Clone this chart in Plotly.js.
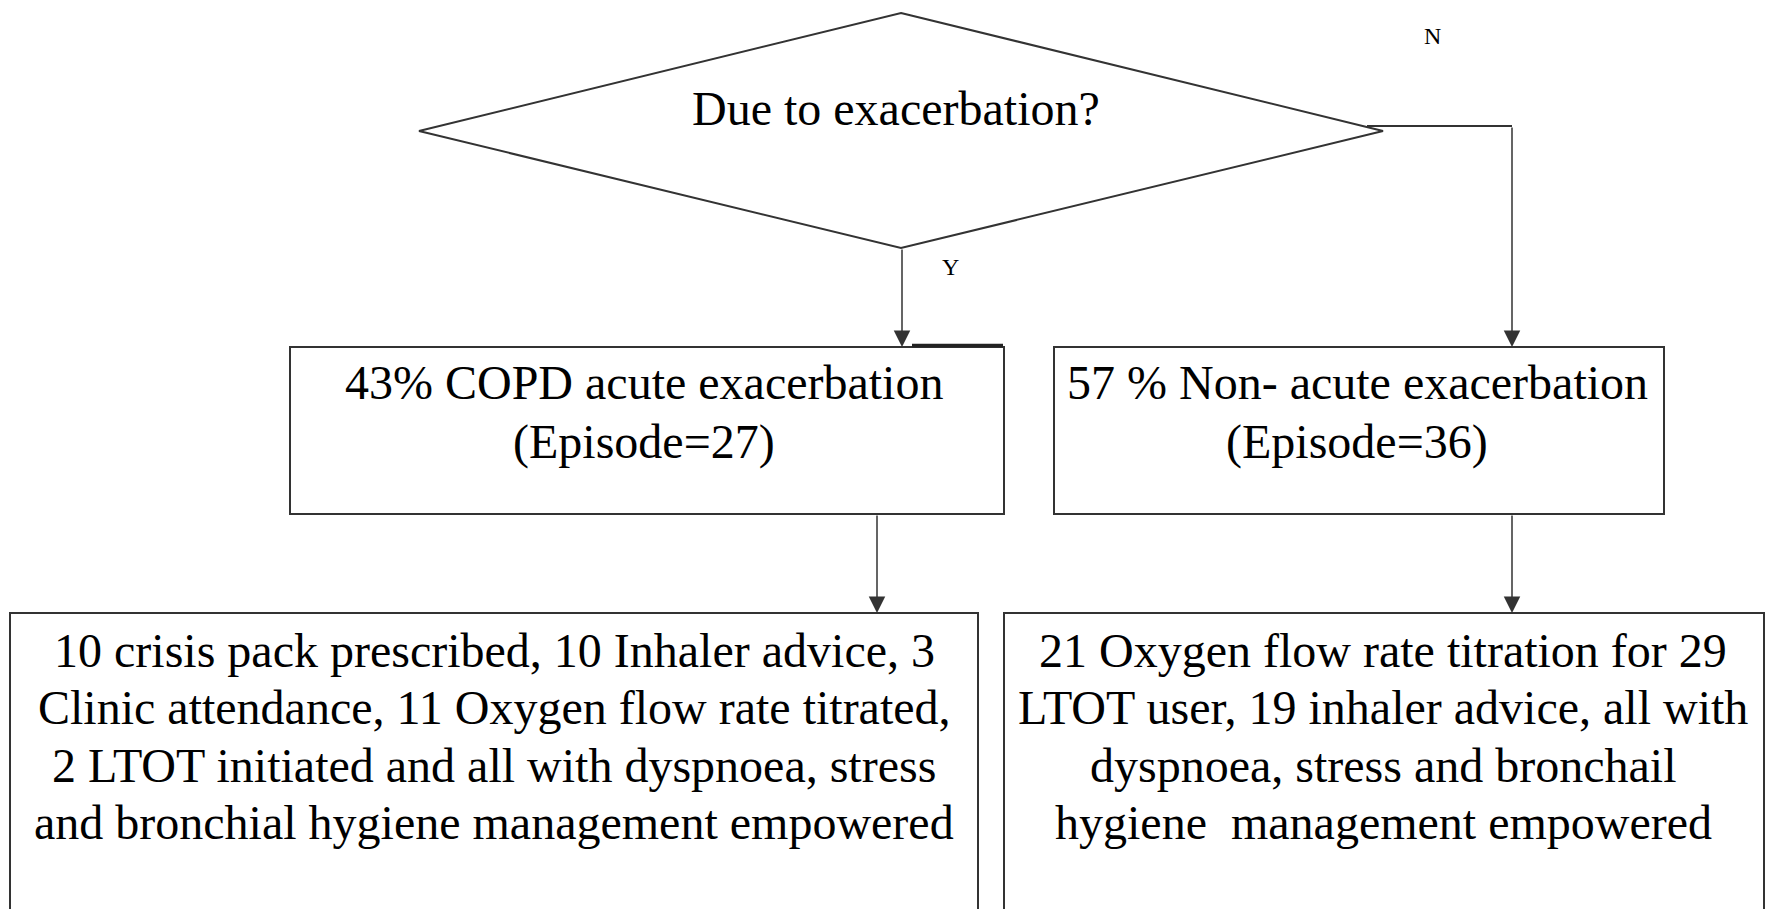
<!DOCTYPE html>
<html>
<head>
<meta charset="utf-8">
<script src="https://cdn.plot.ly/plotly-3.0.1.min.js"></script>
<style>
    html, body {margin: 0; padding: 0; background: #fff;}
    #flowchart {width: 1766px; height: 909px;}
</style>
</head>
<body>
<div id="flowchart"></div>
<script>
// Flowchart content
const questionText = 'Due to exacerbation?';
const branchLabels = ['Y', 'N'];

const summaryLines = [
    ['43% COPD acute exacerbation', '(Episode=27)'],
    ['57 % Non- acute exacerbation', '(Episode=36)']
];

const detailLines = [
    [
        '10 crisis pack prescribed, 10 Inhaler advice, 3',
        'Clinic attendance, 11 Oxygen flow rate titrated,',
        '2 LTOT initiated and all with dyspnoea, stress',
        'and bronchial hygiene management empowered'
    ],
    [
        '21 Oxygen flow rate titration for 29',
        'LTOT user, 19 inhaler advice, all with',
        'dyspnoea, stress and bronchail',
        'hygiene\u00a0 management empowered'
    ]
];

/**
 * Draw the decision flowchart
 */
function createFlowchart() {
    const lineColor = '#333333';
    const font = {family: '"Liberation Serif", "Times New Roman", serif', size: 48, color: '#000'};

    // geometry (pixel space, y downwards)
    const diamond = {cx: 901, top: 13, bottom: 248, left: 419, right: 1383, my: 131};
    const summaryBoxes = [
        {x0: 290, x1: 1004, y0: 347, y1: 514, tx: 644},
        {x0: 1054, x1: 1664, y0: 347, y1: 514, tx: 1357}
    ];
    const detailBoxes = [
        {x0: 10, x1: 978, y0: 613, y1: 960, tx: 494},
        {x0: 1004, x1: 1764, y0: 613, y1: 960, tx: 1383}
    ];
    const summaryLineY = [382, 442];
    const detailLineY = [650, 707, 765, 822];

    const shapes = [];
    const annotations = [];

    // decision diamond
    shapes.push({
        type: 'path',
        path: `M ${diamond.cx} ${diamond.top} L ${diamond.right} ${diamond.my} L ${diamond.cx} ${diamond.bottom} L ${diamond.left} ${diamond.my} Z`,
        xref: 'x', yref: 'y',
        line: {color: lineColor, width: 2},
        fillcolor: 'rgba(0,0,0,0)'
    });
    annotations.push({
        x: 896, y: 108, xref: 'x', yref: 'y',
        text: questionText, showarrow: false, font: font,
        xanchor: 'center', yanchor: 'middle'
    });

    // boxes
    summaryBoxes.concat(detailBoxes).forEach(b => {
        shapes.push({
            type: 'rect', xref: 'x', yref: 'y',
            x0: b.x0, x1: b.x1, y0: b.y0, y1: b.y1,
            line: {color: lineColor, width: 2},
            fillcolor: 'rgba(0,0,0,0)'
        });
    });

    // stray thick segment on top edge of the first box
    shapes.push({
        type: 'line', xref: 'x', yref: 'y',
        x0: 912, x1: 1003, y0: 345.5, y1: 345.5,
        line: {color: '#222', width: 3.5}
    });

    // box texts
    summaryBoxes.forEach((b, i) => {
        summaryLines[i].forEach((t, j) => {
            annotations.push({
                x: b.tx, y: summaryLineY[j], xref: 'x', yref: 'y',
                text: t, showarrow: false, font: font,
                xanchor: 'center', yanchor: 'middle'
            });
        });
    });
    detailBoxes.forEach((b, i) => {
        detailLines[i].forEach((t, j) => {
            annotations.push({
                x: b.tx, y: detailLineY[j], xref: 'x', yref: 'y',
                text: t, showarrow: false, font: font,
                xanchor: 'center', yanchor: 'middle'
            });
        });
    });

    // N branch elbow
    shapes.push({
        type: 'line', xref: 'x', yref: 'y',
        x0: 1367, x1: 1512, y0: 126, y1: 126,
        line: {color: lineColor, width: 2}
    });

    // arrows
    const arrows = [
        {x: 902, ax: 902, y: 347, ay: 248},
        {x: 1512, ax: 1512, y: 347, ay: 126},
        {x: 877, ax: 877, y: 613, ay: 514},
        {x: 1512, ax: 1512, y: 613, ay: 514}
    ];
    arrows.forEach(a => {
        annotations.push({
            x: a.x, y: a.y, ax: a.ax, ay: a.ay,
            xref: 'x', yref: 'y', axref: 'x', ayref: 'y',
            text: '', showarrow: true,
            arrowhead: 2, arrowsize: 2.2, arrowwidth: 1.5,
            arrowcolor: lineColor, standoff: 0
        });
    });

    // branch labels
    const labelFont = {family: '"Liberation Serif", "Times New Roman", serif', size: 24, color: '#000'};
    annotations.push({x: 950, y: 267, xref: 'x', yref: 'y', text: branchLabels[0],
        showarrow: false, font: labelFont, xanchor: 'center', yanchor: 'middle'});
    annotations.push({x: 1432, y: 36, xref: 'x', yref: 'y', text: branchLabels[1],
        showarrow: false, font: labelFont, xanchor: 'center', yanchor: 'middle'});

    const layout = {
        width: 1766,
        height: 909,
        margin: {l: 0, r: 0, t: 0, b: 0},
        paper_bgcolor: '#fff',
        plot_bgcolor: '#fff',
        xaxis: {range: [0, 1766], visible: false, fixedrange: true},
        yaxis: {range: [909, 0], visible: false, fixedrange: true},
        showlegend: false,
        shapes: shapes,
        annotations: annotations
    };

    Plotly.newPlot('flowchart', [], layout, {staticPlot: true});
}

createFlowchart();
</script>
</body>
</html>
